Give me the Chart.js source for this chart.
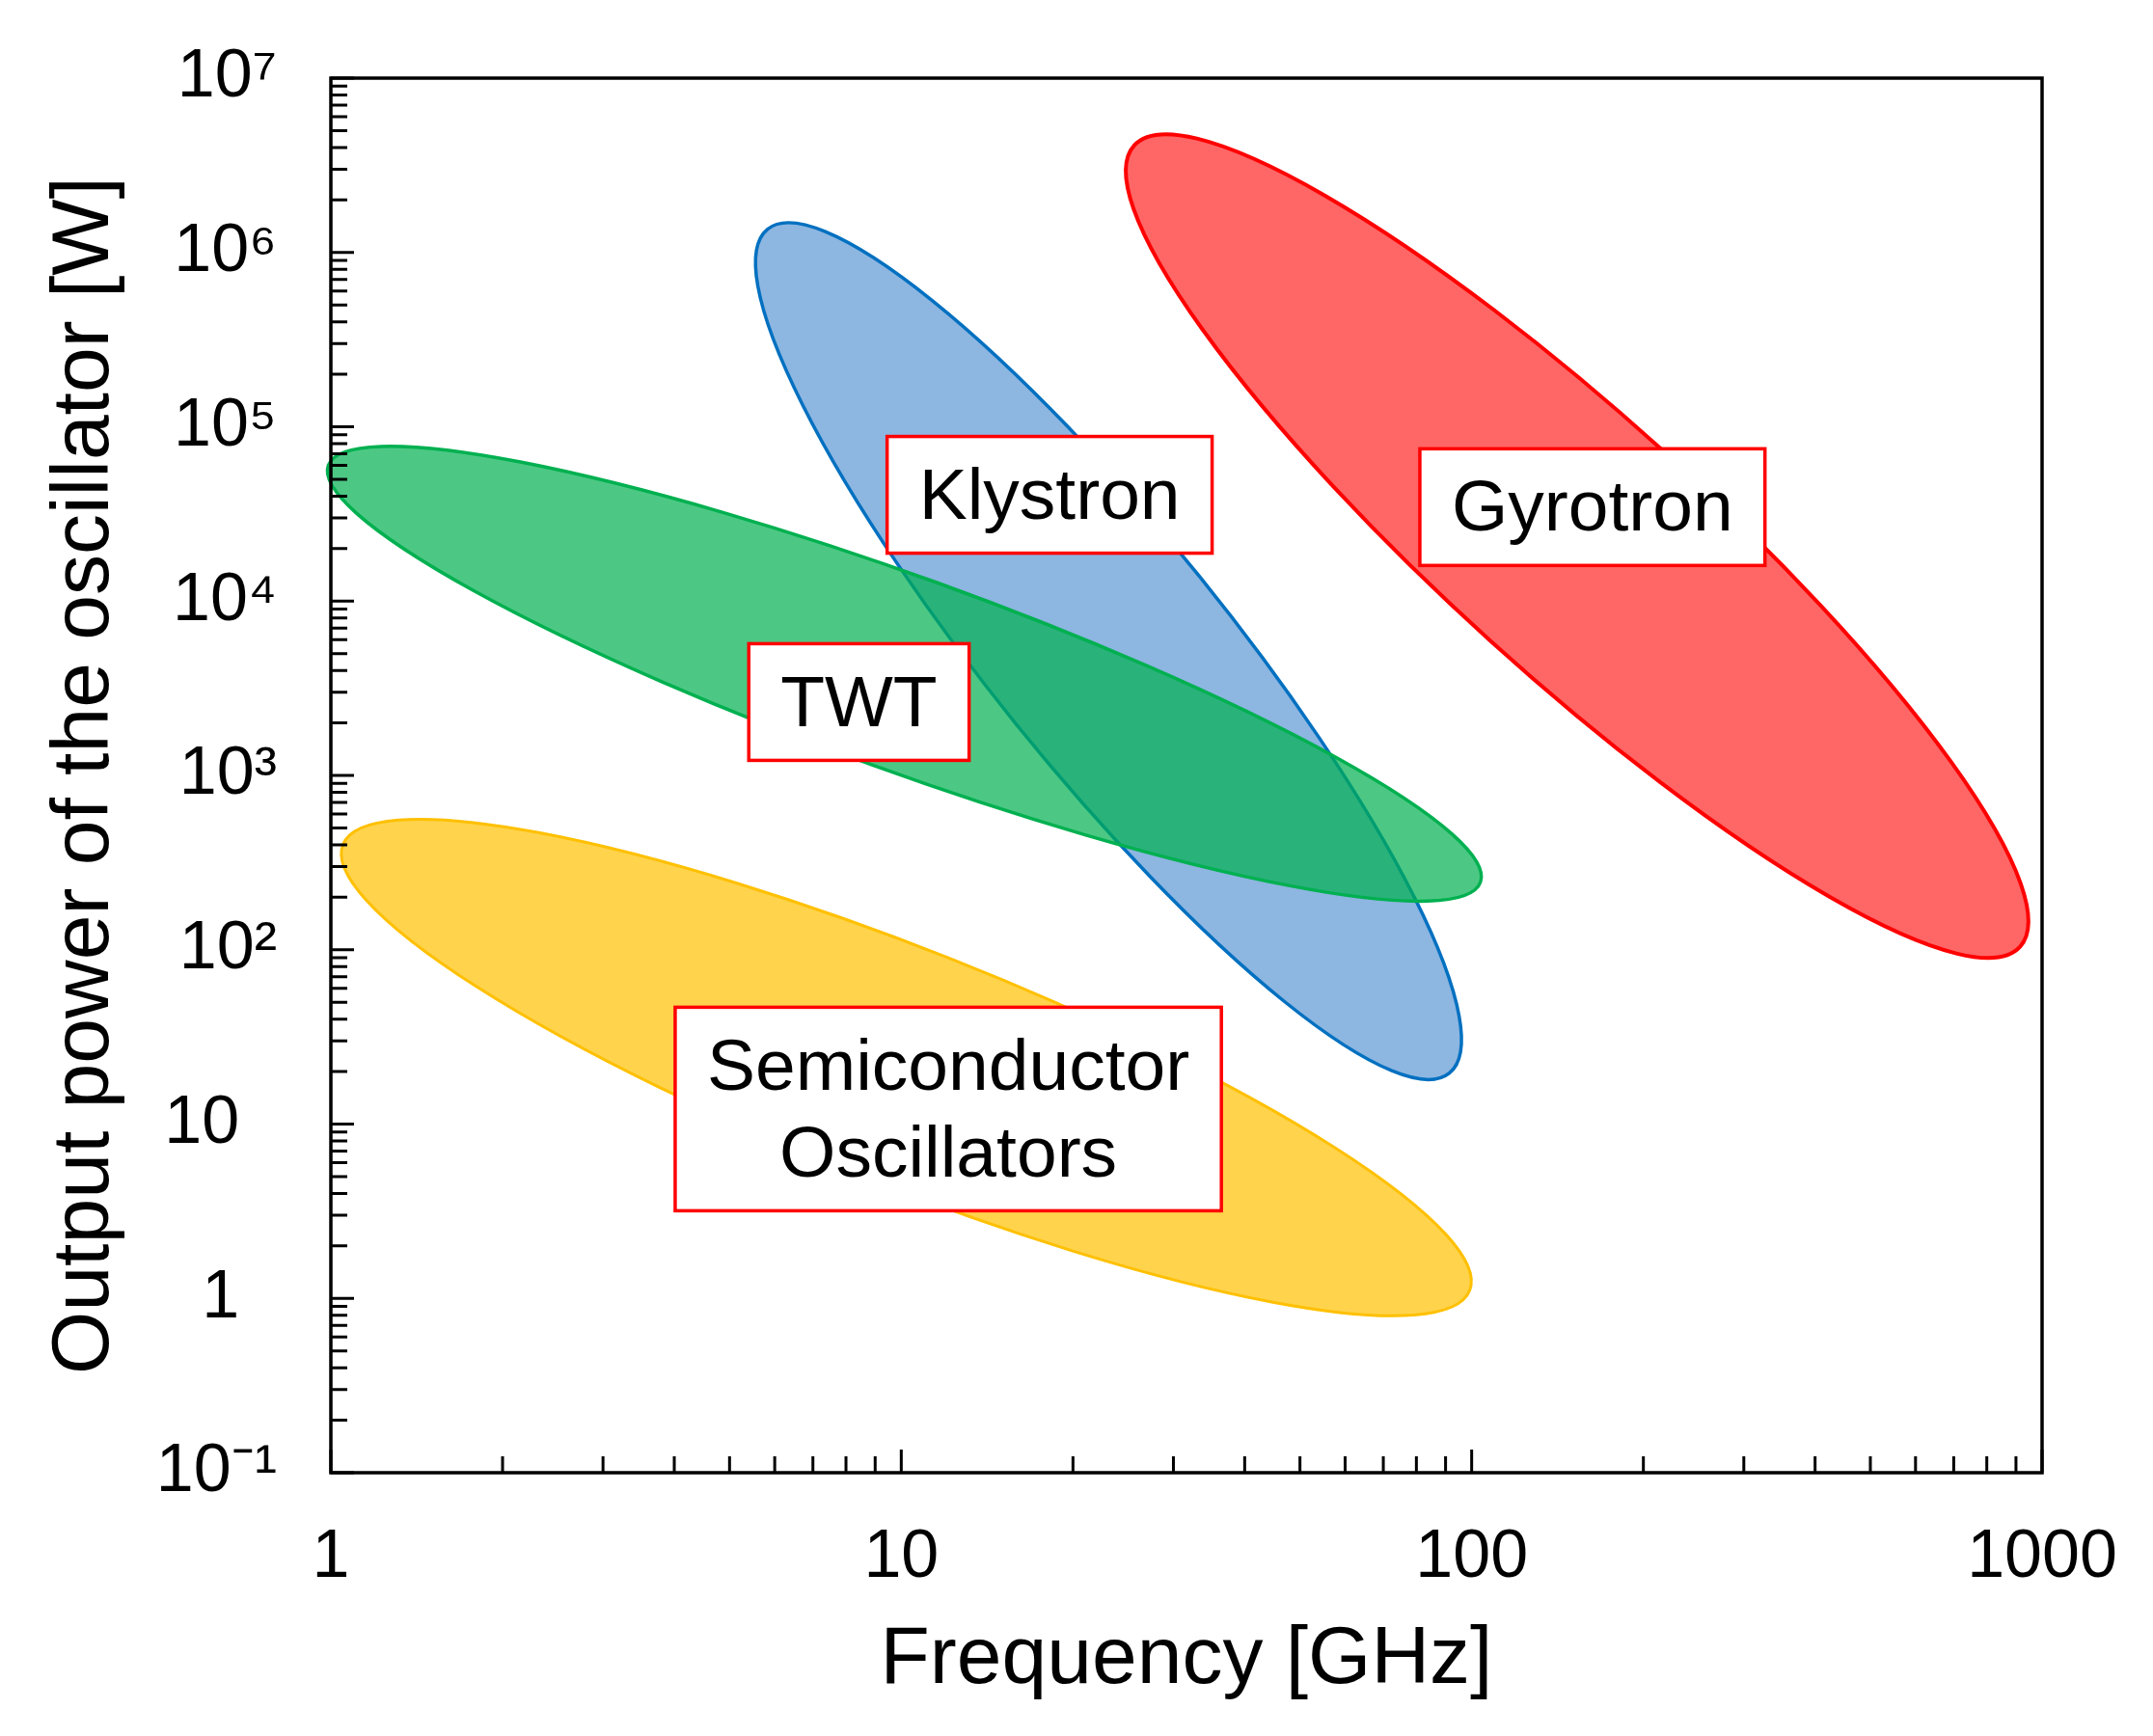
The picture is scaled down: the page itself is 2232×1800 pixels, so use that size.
<!DOCTYPE html>
<html><head><meta charset="utf-8">
<script src="https://cdn.jsdelivr.net/npm/chart.js@4.4.1/dist/chart.umd.min.js"></script>
<style>html,body{margin:0;padding:0;background:#fff}#wrap{width:2232px;height:1800px}</style>
</head><body><div id="wrap"><canvas id="c" width="2232" height="1800"></canvas></div>
<script>
// ---- data ----
const regionNames = ['Semiconductor Oscillators', 'Gyrotron', 'Klystron', 'TWT'];
// ends of each region's long axis (frequency in GHz, power in W)
const tipAFreq  = [1.05, 25.6, 5.83, 0.99];
const tipAPower = [401, 4.11e6, 1.36e6, 6.01e4];
const tipBFreq  = [99.2, 915, 91.4, 103.6];
const tipBPower = [1.11, 104, 19.6, 244];
const widthRatio = [0.194, 0.215, 0.217, 0.158];

const labelLines = [['Klystron'], ['Gyrotron'], ['TWT'], ['Semiconductor', 'Oscillators']];
const labelFreq  = [18.2, 162.8, 8.43, 12.09];
const labelPower = [4.07e4, 3.46e4, 2636, 12.2];

const xTickValues = [1, 10, 100, 1000];
const xTickLabels = ['1', '10', '100', '1000'];
const yTickValues = [0.1, 1, 10, 100, 1e3, 1e4, 1e5, 1e6, 1e7];
const yTickLabels = ['10\u207B\u00B9', '1\u2007', '10\u2007', '10\u00B2', '10\u00B3', '10\u2074', '10\u2075', '10\u2076', '10\u2077'];

// ---- styles ----
const FONT = '"Liberation Sans", Arial, Helvetica, sans-serif';
const fills = ['rgba(255,192,0,0.7)', 'rgb(255,102,102)', 'rgb(141,182,225)', 'rgba(0,176,80,0.7)'];
const edges = ['#FFC000', '#FF0000', '#0070C0', '#00B050'];
const edgeWidths = [3, 4, 3.5, 3.5];

const datasets = regionNames.map((name, i) => ({
  label: name,
  data: [{x: tipAFreq[i], y: tipAPower[i]}, {x: tipBFreq[i], y: tipBPower[i]}],
  pointRadius: 0,
  showLine: false,
  widthRatio: widthRatio[i],
  fillColor: fills[i],
  edgeColor: edges[i],
  edgeWidth: edgeWidths[i]
}));

const regionPlugin = {
  id: 'regions',
  beforeDatasetsDraw(chart) {
    const ctx = chart.ctx;
    chart.data.datasets.forEach((ds, i) => {
      const pts = chart.getDatasetMeta(i).data;
      const p = pts[0], q = pts[1];
      const cx = (p.x + q.x) / 2, cy = (p.y + q.y) / 2;
      const a = Math.hypot(q.x - p.x, q.y - p.y) / 2;
      const ang = Math.atan2(q.y - p.y, q.x - p.x);
      ctx.save();
      ctx.beginPath();
      ctx.ellipse(cx, cy, a, a * ds.widthRatio, ang, 0, Math.PI * 2);
      ctx.fillStyle = ds.fillColor;
      ctx.fill();
      ctx.lineWidth = ds.edgeWidth;
      ctx.strokeStyle = ds.edgeColor;
      ctx.stroke();
      ctx.restore();
    });
  },
  afterDraw(chart) {
    const ctx = chart.ctx;
    const xs = chart.scales.x, ys = chart.scales.y;
    const {left, right, top, bottom} = chart.chartArea;
    ctx.save();
    ctx.strokeStyle = '#000';
    ctx.lineWidth = 3;
    // minor/major inward ticks
    ctx.beginPath();
    for (let e = 0; e < 3; e++) {
      for (let m = 1; m <= 10; m++) {
        const v = m * Math.pow(10, e);
        const px = xs.getPixelForValue(v);
        const len = (m === 1 || m === 10) ? 24 : 17;
        ctx.moveTo(px, bottom); ctx.lineTo(px, bottom - len);
      }
    }
    for (let e = -1; e < 7; e++) {
      for (let m = 1; m <= 10; m++) {
        const v = m * Math.pow(10, e);
        const py = ys.getPixelForValue(v);
        const len = (m === 1 || m === 10) ? 24 : 17;
        ctx.moveTo(left, py); ctx.lineTo(left + len, py);
      }
    }
    ctx.stroke();
    ctx.lineWidth = 3.5;
    ctx.strokeRect(left, top, right - left, bottom - top);
    ctx.restore();

    // region labels
    ctx.save();
    ctx.font = '75px ' + FONT;
    ctx.textAlign = 'center';
    ctx.textBaseline = 'middle';
    labelLines.forEach((lines, i) => {
      const cx = xs.getPixelForValue(labelFreq[i]);
      const cy = ys.getPixelForValue(labelPower[i]);
      const w = Math.max(...lines.map(t => ctx.measureText(t).width)) + 66;
      const h = lines.length * 90 + 31;
      ctx.fillStyle = '#fff';
      ctx.fillRect(cx - w / 2, cy - h / 2, w, h);
      ctx.lineWidth = 3.5;
      ctx.strokeStyle = '#FF0000';
      ctx.strokeRect(cx - w / 2, cy - h / 2, w, h);
      ctx.fillStyle = '#000';
      lines.forEach((t, k) => {
        ctx.fillText(t, cx, cy + (k - (lines.length - 1) / 2) * 90 + 4);
      });
    });
    ctx.restore();
  }
};

new Chart(document.getElementById('c'), {
  type: 'scatter',
  data: {datasets},
  plugins: [regionPlugin],
  options: {
    responsive: false,
    devicePixelRatio: 1,
    animation: false,
    layout: {padding: {left: 0, right: 115, top: 81, bottom: 0}},
    plugins: {legend: {display: false}, tooltip: {enabled: false}},
    scales: {
      x: {
        type: 'logarithmic', min: 1, max: 1000,
        afterBuildTicks: s => { s.ticks = xTickValues.map(v => ({value: v})); },
        afterFit: s => { s.height = 273; s.paddingLeft = 0; s.paddingRight = 0; },
        grid: {display: false, drawTicks: false},
        border: {display: false},
        ticks: {
          autoSkip: false, maxRotation: 0, minRotation: 0, padding: 47,
          color: '#000', font: {family: FONT, size: 70},
          callback: v => { const k = xTickValues.indexOf(v); return k >= 0 ? xTickLabels[k] : ''; }
        },
        title: {display: true, text: 'Frequency [GHz]', color: '#000',
          font: {family: FONT, size: 84}, padding: {top: 0, bottom: 28}}
      },
      y: {
        type: 'logarithmic', min: 0.1, max: 1e7,
        afterBuildTicks: s => { s.ticks = yTickValues.map(v => ({value: v})); },
        afterFit: s => { s.width = 343; s.paddingTop = 0; s.paddingBottom = 0; },
        grid: {display: false, drawTicks: false},
        border: {display: false},
        ticks: {
          autoSkip: false, padding: 56,
          color: '#000', font: {family: FONT, size: 70},
          callback: v => { const k = yTickValues.findIndex(t => Math.abs(Math.log10(t) - Math.log10(v)) < 1e-6); return k >= 0 ? yTickLabels[k] : ''; }
        },
        title: {display: true, text: 'Output power of the oscillator [W]', color: '#000',
          font: {family: FONT, size: 84}, padding: {top: 38, bottom: 0}}
      }
    }
  }
});
</script></body></html>
